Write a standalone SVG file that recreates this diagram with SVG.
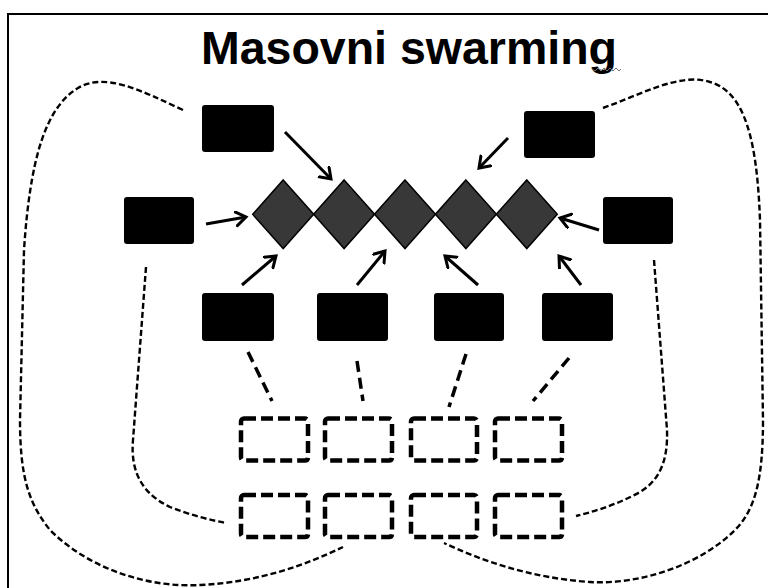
<svg xmlns="http://www.w3.org/2000/svg" width="768" height="588" viewBox="0 0 768 588">
<defs>
<style>
.blk{fill:#000;stroke:none}
.dia{fill:#383838;stroke:#000;stroke-width:1.5;stroke-linejoin:miter}
.dbox{fill:none;stroke:#000;stroke-width:4.5;stroke-dasharray:12 5}
.arr{fill:none;stroke:#000;stroke-width:3;marker-end:url(#ah)}
.thick{fill:none;stroke:#000;stroke-width:3.5;stroke-dasharray:11 6}
.thin{fill:none;stroke:#000;stroke-width:2.4;stroke-dasharray:6 3}
.title{font-family:"Liberation Sans",Arial,sans-serif;font-size:46px;font-weight:bold;fill:#000}
</style>
<marker id="ah" markerUnits="userSpaceOnUse" markerWidth="20" markerHeight="20" refX="11" refY="8" orient="auto">
<path d="M1,1 L11,8 L1,15" fill="none" stroke="#000" stroke-width="3" stroke-linecap="round" stroke-linejoin="miter"/>
</marker>
</defs>
<rect width="768" height="588" fill="#fff"/>
<path d="M8,588 L8,14 L768,14" fill="none" stroke="#000" stroke-width="2"/>
<g id="title">
<text class="title" x="201" y="64" textLength="416" lengthAdjust="spacingAndGlyphs">Masovni swarming</text>
<polyline points="592,69 595,71 598,68 601,71 604,68 607,71 610,68 613,71 616,68 619,71 621,69" fill="none" stroke="#777" stroke-width="1"/>
</g>
<g id="connectors">
<path class="arr" d="M285,132 L331,179"/>
<path class="arr" d="M508,138 L479,168"/>
<path class="arr" d="M206,224 L246,217"/>
<path class="arr" d="M599,230 L560,218"/>
<path class="arr" d="M242,285 L276,256"/>
<path class="arr" d="M357,285 L385,251"/>
<path class="arr" d="M478,285 L445,256"/>
<path class="arr" d="M581,285 L559,256"/>
<path class="thick" d="M248,352 L272,401"/>
<path class="thick" d="M357,361 L363,401"/>
<path class="thick" d="M466,354 L449,407"/>
<path class="thick" d="M569,358 L533,401"/>
<path class="thin" d="M183,110 C140,90 105,72 78,88 C45,108 30,160 24,250 L20,420 C20,480 30,505 50,530 C90,570 150,588 200,585 C260,582 305,565 343,547"/>
<path class="thin" d="M603,108 C640,95 680,72 710,82 C745,92 757,140 760,220 L763,420 C763,480 755,510 735,530 C700,565 640,585 590,582 C530,578 480,560 444,543"/>
<path class="thin" d="M146,267 L133,440 C130,475 145,495 170,507 C190,515 210,520 226,523"/>
<path class="thin" d="M654,260 L667,430 C668,460 660,480 640,492 C620,503 600,510 576,516"/>
</g>
<g id="box-top-left"><rect class="blk" x="202" y="105" width="72" height="47" rx="3"/></g>
<g id="box-top-right"><rect class="blk" x="524" y="111" width="71" height="47" rx="3"/></g>
<g id="box-mid-left"><rect class="blk" x="124" y="197" width="70" height="47" rx="3"/></g>
<g id="box-mid-right"><rect class="blk" x="603" y="197" width="70" height="47" rx="3"/></g>
<g id="box-bot-1"><rect class="blk" x="202" y="293" width="72" height="48" rx="3"/></g>
<g id="box-bot-2"><rect class="blk" x="317" y="293" width="71" height="48" rx="3"/></g>
<g id="box-bot-3"><rect class="blk" x="434" y="293" width="70" height="48" rx="3"/></g>
<g id="box-bot-4"><rect class="blk" x="542" y="293" width="71" height="48" rx="3"/></g>
<g id="diamond-1"><polygon class="dia" points="283.2,180 313.7,214.3 283.2,248.6 252.7,214.3"/></g>
<g id="diamond-2"><polygon class="dia" points="344.1,180 374.6,214.3 344.1,248.6 313.6,214.3"/></g>
<g id="diamond-3"><polygon class="dia" points="405,180 435.5,214.3 405,248.6 374.5,214.3"/></g>
<g id="diamond-4"><polygon class="dia" points="465.9,180 496.4,214.3 465.9,248.6 435.4,214.3"/></g>
<g id="diamond-5"><polygon class="dia" points="526.8,180 557.3,214.3 526.8,248.6 496.3,214.3"/></g>
<g id="dbox-1-1"><rect class="dbox" x="241" y="418.5" width="67" height="42" rx="3"/></g>
<g id="dbox-1-2"><rect class="dbox" x="325" y="418.5" width="67" height="42" rx="3"/></g>
<g id="dbox-1-3"><rect class="dbox" x="411" y="418.5" width="66" height="42" rx="3"/></g>
<g id="dbox-1-4"><rect class="dbox" x="495" y="418.5" width="67" height="42" rx="3"/></g>
<g id="dbox-2-1"><rect class="dbox" x="241" y="495" width="67" height="42" rx="3"/></g>
<g id="dbox-2-2"><rect class="dbox" x="325" y="495" width="67" height="42" rx="3"/></g>
<g id="dbox-2-3"><rect class="dbox" x="411" y="495" width="66" height="42" rx="3"/></g>
<g id="dbox-2-4"><rect class="dbox" x="495" y="495" width="67" height="42" rx="3"/></g>
</svg>
